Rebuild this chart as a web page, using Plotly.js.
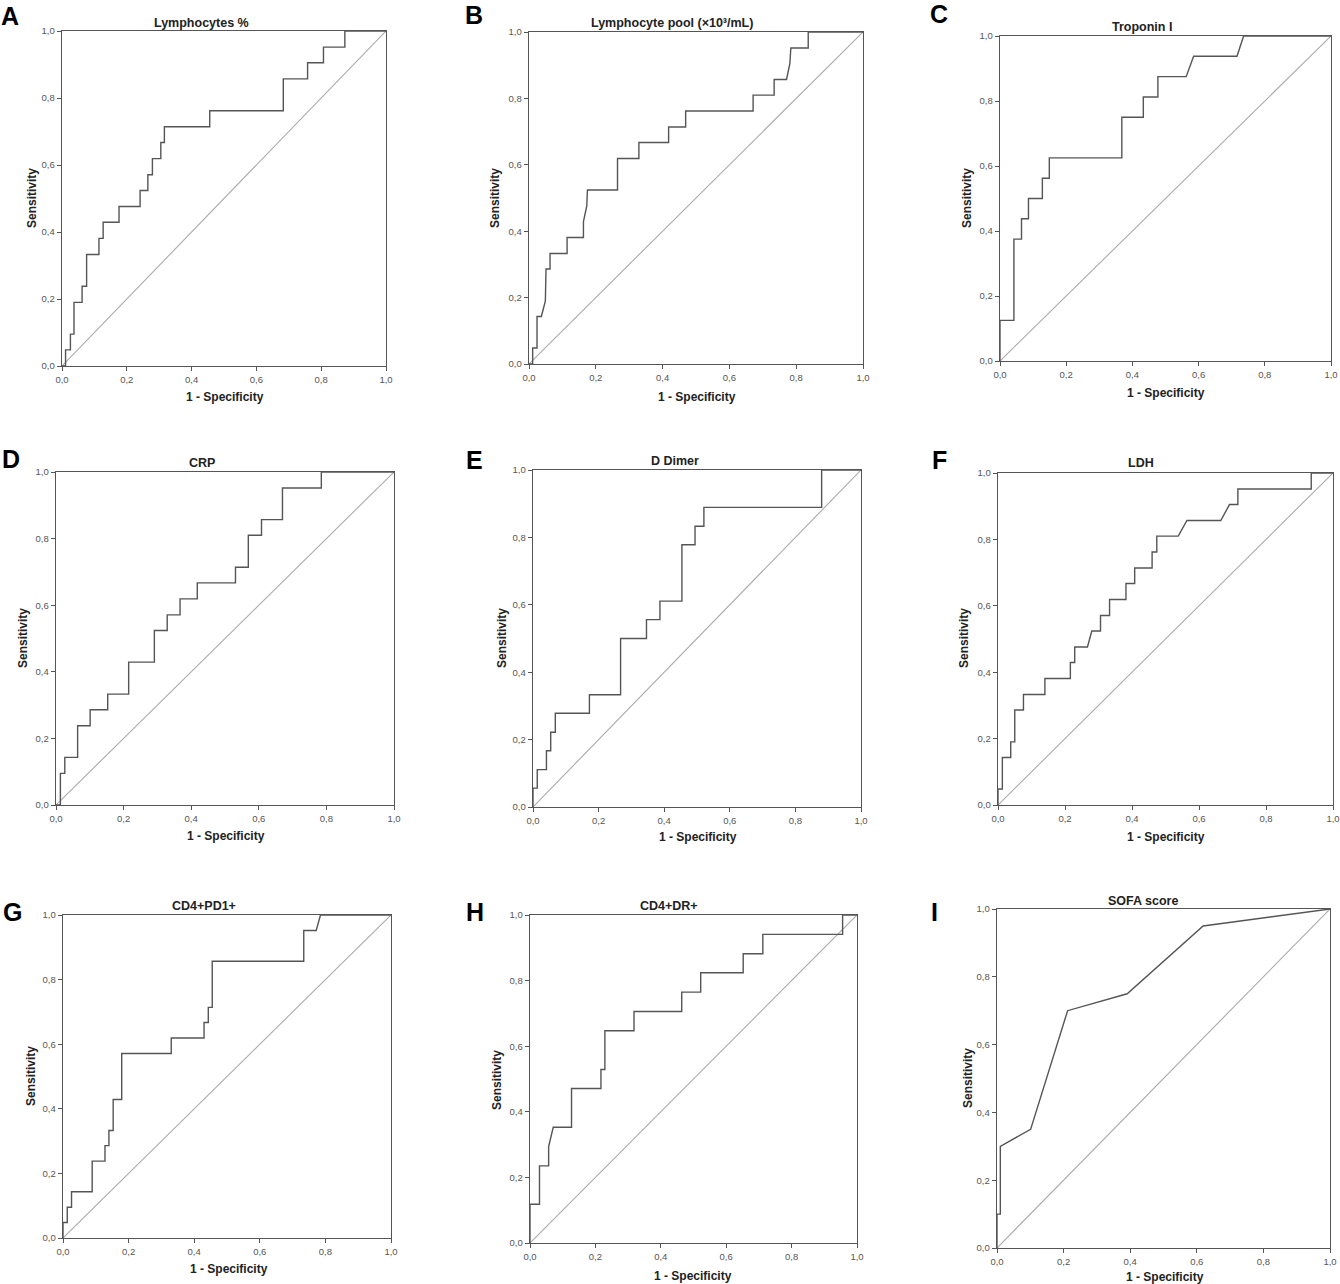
<!DOCTYPE html>
<html><head><meta charset="utf-8">
<script src="https://cdn.plot.ly/plotly-3.0.1.min.js"></script>
<style>html,body{margin:0;padding:0;background:#fff}#chart{width:1340px;height:1284px}</style>
</head><body><div id="chart"></div>
<script>
// ---------- DATA ----------
const panelLetters = ['A','B','C','D','E','F','G','H','I'];
const panelTitles = ['Lymphocytes %', 'Lymphocyte pool (\u00d710\u00b3/mL)', 'Troponin I', 'CRP', 'D Dimer', 'LDH', 'CD4+PD1+', 'CD4+DR+', 'SOFA score'];
const xAxisTitle = '1 - Specificity';
const yAxisTitle = 'Sensitivity';
const tickVals = [0, 0.2, 0.4, 0.6, 0.8, 1.0];
const refX = [0, 1];
const refY = [0, 1];

// A: Lymphocytes %
const lymphPctFpr  = [0,0.011,0.011,0.026,0.026,0.037,0.037,0.062,0.062,0.076,0.076,0.114,0.114,0.127,0.127,0.176,0.176,0.241,0.241,0.265,0.265,0.279,0.279,0.305,0.305,0.316,0.316,0.456,0.456,0.683,0.683,0.758,0.758,0.807,0.807,0.873,0.873,1];
const lymphPctSens = [0,0,0.048,0.048,0.095,0.095,0.190,0.190,0.238,0.238,0.333,0.333,0.381,0.381,0.429,0.429,0.476,0.476,0.524,0.524,0.571,0.571,0.619,0.619,0.667,0.667,0.714,0.714,0.762,0.762,0.857,0.857,0.905,0.905,0.952,0.952,1,1];
// B: Lymphocyte pool
const lymphPoolFpr  = [0,0.011,0.011,0.024,0.024,0.037,0.049,0.051,0.063,0.063,0.114,0.114,0.163,0.163,0.173,0.175,0.265,0.265,0.329,0.329,0.418,0.418,0.469,0.469,0.671,0.671,0.734,0.734,0.771,0.781,0.784,0.836,0.836,1];
const lymphPoolSens = [0,0,0.048,0.048,0.143,0.143,0.190,0.286,0.286,0.333,0.333,0.381,0.381,0.429,0.476,0.524,0.524,0.619,0.619,0.667,0.667,0.714,0.714,0.762,0.762,0.810,0.810,0.857,0.857,0.905,0.952,0.952,1,1];
// C: Troponin I
const troponinFpr  = [0,0,0.042,0.042,0.065,0.065,0.086,0.086,0.128,0.128,0.149,0.149,0.368,0.368,0.433,0.433,0.477,0.477,0.5625,0.585,0.716,0.736,1];
const troponinSens = [0,0.125,0.125,0.375,0.375,0.4375,0.4375,0.5,0.5,0.5625,0.5625,0.625,0.625,0.75,0.75,0.8125,0.8125,0.875,0.875,0.9375,0.9375,1,1];
// D: CRP
const crpFpr  = [0,0.013,0.013,0.026,0.026,0.064,0.064,0.101,0.101,0.153,0.153,0.215,0.215,0.291,0.291,0.329,0.329,0.367,0.367,0.418,0.418,0.531,0.531,0.569,0.569,0.608,0.608,0.670,0.670,0.785,0.785,1];
const crpSens = [0,0,0.095,0.095,0.143,0.143,0.238,0.238,0.286,0.286,0.333,0.333,0.429,0.429,0.524,0.524,0.571,0.571,0.619,0.619,0.667,0.667,0.714,0.714,0.810,0.810,0.857,0.857,0.952,0.952,1,1];
// E: D Dimer
const dDimerFpr  = [0,0,0.013,0.013,0.041,0.041,0.054,0.054,0.068,0.068,0.172,0.172,0.267,0.267,0.346,0.346,0.387,0.387,0.454,0.454,0.494,0.494,0.521,0.521,0.880,0.880,1];
const dDimerSens = [0,0.056,0.056,0.111,0.111,0.167,0.167,0.222,0.222,0.278,0.278,0.333,0.333,0.5,0.5,0.556,0.556,0.611,0.611,0.778,0.778,0.833,0.833,0.889,0.889,1,1];
// F: LDH
const ldhFpr  = [0,0,0.013,0.013,0.038,0.038,0.050,0.050,0.076,0.076,0.140,0.140,0.216,0.216,0.229,0.229,0.267,0.280,0.306,0.306,0.333,0.333,0.382,0.382,0.408,0.408,0.460,0.460,0.474,0.474,0.538,0.564,0.665,0.691,0.716,0.716,0.935,0.935,1];
const ldhSens = [0,0.048,0.048,0.143,0.143,0.190,0.190,0.286,0.286,0.333,0.333,0.381,0.381,0.429,0.429,0.476,0.476,0.524,0.524,0.571,0.571,0.619,0.619,0.667,0.667,0.714,0.714,0.762,0.762,0.810,0.810,0.857,0.857,0.905,0.905,0.952,0.952,1,1];
// G: CD4+PD1+
const pd1Fpr  = [0,0,0.013,0.013,0.026,0.026,0.089,0.089,0.128,0.128,0.140,0.140,0.153,0.153,0.179,0.179,0.330,0.330,0.430,0.430,0.443,0.443,0.455,0.455,0.734,0.734,0.772,0.785,1];
const pd1Sens = [0,0.048,0.048,0.095,0.095,0.143,0.143,0.238,0.238,0.286,0.286,0.333,0.333,0.429,0.429,0.571,0.571,0.619,0.619,0.667,0.667,0.714,0.714,0.857,0.857,0.952,0.952,1,1];
// H: CD4+DR+
const drFpr  = [0,0,0.029,0.029,0.057,0.057,0.071,0.127,0.127,0.217,0.217,0.229,0.229,0.318,0.318,0.464,0.464,0.522,0.522,0.652,0.652,0.712,0.712,0.956,0.956,1];
const drSens = [0,0.118,0.118,0.235,0.235,0.294,0.353,0.353,0.471,0.471,0.529,0.529,0.647,0.647,0.706,0.706,0.765,0.765,0.824,0.824,0.882,0.882,0.941,0.941,1,1];
// I: SOFA score
const sofaFpr  = [0,0,0.010,0.010,0.101,0.212,0.391,0.619,1];
const sofaSens = [0,0.1,0.1,0.3,0.35,0.70,0.75,0.95,1];

const curvesFpr  = [lymphPctFpr, lymphPoolFpr, troponinFpr, crpFpr, dDimerFpr, ldhFpr, pd1Fpr, drFpr, sofaFpr];
const curvesSens = [lymphPctSens, lymphPoolSens, troponinSens, crpSens, dDimerSens, ldhSens, pd1Sens, drSens, sofaSens];

// ---------- LAYOUT GEOMETRY (pixels) ----------
const W = 1340, H = 1284;
// plot boxes [left, top, right, bottom]
const boxes = [
  [62,31,386,366],[529,32,863,364],[1000,36,1331,361],
  [56,472,394,805],[533,470,861,807],[998,473,1333,805],
  [63,915,391,1238],[530,915,857,1243],[997,909,1330,1248]
];
const titlePos  = [[201,23],[672,23],[1142,27],[202,463],[675,461],[1141,463],[204,906],[669,906],[1143,901]];
const xTitlePos = [[225,397],[697,397],[1166,393],[226,836],[698,837],[1166,837],[229,1269],[693,1276],[1165,1277]];
const yTitlePos = [[32,198],[495,198],[967,198],[23,638],[502,638],[964,638],[31,1076],[497,1080],[968,1078]];
const letterPos = [[10,16],[474,15],[939,14],[11,459],[474,460],[939,460],[12,912],[475,912],[934,912]];

const FONT = 'Liberation Sans, Arial, Helvetica, sans-serif';
const px = x => x / W;
const py = y => 1 - y / H;

const traces = [];
const layout = {
  width: W, height: H,
  margin: {l:0, r:0, t:0, b:0},
  paper_bgcolor: '#fff', plot_bgcolor: '#fff',
  showlegend: false,
  separators: ',.',
  font: {family: FONT, color: '#333'},
  annotations: []
};

for (let i = 0; i < 9; i++) {
  const n = i === 0 ? '' : String(i + 1);
  const [L, T, R, B] = boxes[i];
  const common = {
    range: [0, 1], tickvals: tickVals, tickformat: '.1f',
    ticks: 'outside', ticklen: 4, tickwidth: 1, tickcolor: '#555',
    showline: true, linecolor: '#555', linewidth: 1.3, mirror: true,
    showgrid: false, zeroline: false, fixedrange: true,
    tickfont: {family: FONT, size: 9.5, color: '#555'}
  };
  layout['xaxis' + n] = Object.assign({}, common, {domain: [px(L), px(R)], anchor: 'y' + n});
  layout['yaxis' + n] = Object.assign({}, common, {domain: [py(B), py(T)], anchor: 'x' + n});

  traces.push({x: refX, y: refY, xaxis: 'x' + n, yaxis: 'y' + n, mode: 'lines',
    line: {color: '#ababab', width: 1.1}, hoverinfo: 'skip'});
  traces.push({x: curvesFpr[i], y: curvesSens[i], xaxis: 'x' + n, yaxis: 'y' + n, mode: 'lines',
    line: {color: '#555', width: 1.4}, hoverinfo: 'skip'});

  layout.annotations.push({text: '<b>' + panelTitles[i] + '</b>', xref: 'paper', yref: 'paper',
    x: px(titlePos[i][0]), y: py(titlePos[i][1]), xanchor: 'center', yanchor: 'middle',
    showarrow: false, font: {family: FONT, size: 12.5, color: '#222'}});
  layout.annotations.push({text: '<b>' + xAxisTitle + '</b>', xref: 'paper', yref: 'paper',
    x: px(xTitlePos[i][0]), y: py(xTitlePos[i][1]), xanchor: 'center', yanchor: 'middle',
    showarrow: false, font: {family: FONT, size: 12, color: '#222'}});
  layout.annotations.push({text: '<b>' + yAxisTitle + '</b>', xref: 'paper', yref: 'paper',
    x: px(yTitlePos[i][0]), y: py(yTitlePos[i][1]), xanchor: 'center', yanchor: 'middle',
    textangle: -90, showarrow: false, font: {family: FONT, size: 12, color: '#222'}});
  layout.annotations.push({text: '<b>' + panelLetters[i] + '</b>', xref: 'paper', yref: 'paper',
    x: px(letterPos[i][0]), y: py(letterPos[i][1]), xanchor: 'center', yanchor: 'middle',
    showarrow: false, font: {family: FONT, size: 25, color: '#000'}});
}

Plotly.newPlot('chart', traces, layout, {staticPlot: true, displayModeBar: false});
</script>
</body></html>
